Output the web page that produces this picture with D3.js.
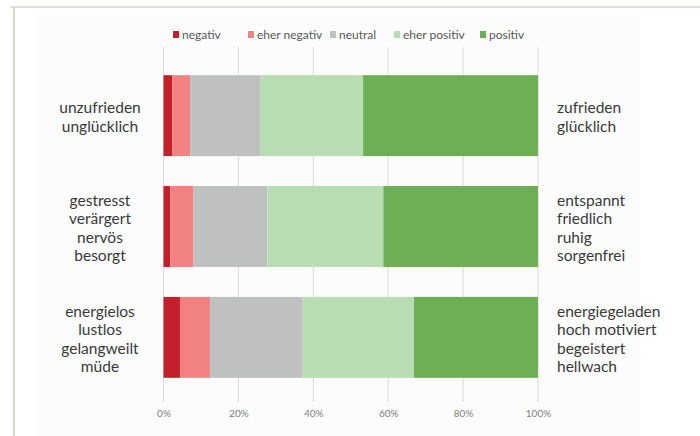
<!DOCTYPE html>
<html><head><meta charset="utf-8">
<script src="https://cdn.jsdelivr.net/npm/d3@7"></script>
<style>body{margin:0;background:#fff;}svg{display:block;}</style>
</head><body>
<svg id="c" width="700" height="436"></svg>
<script>
const categories = ["Zufriedenheit", "Entspannung", "Energie"];
const leftLabels = [["unzufrieden","unglücklich"],["gestresst","verärgert","nervös","besorgt"],["energielos","lustlos","gelangweilt","müde"]];
const rightLabels = [["zufrieden","glücklich"],["entspannt","friedlich","ruhig","sorgenfrei"],["energiegeladen","hoch motiviert","begeistert","hellwach"]];
const seriesNames = ["negativ","eher negativ","neutral","eher positiv","positiv"];
const negativ = [2.3, 1.8, 4.4];
const eherNegativ = [4.8, 6.2, 8.0];
const neutral = [18.7, 19.7, 24.8];
const eherPositiv = [27.5, 31.0, 29.7];
const positiv = [46.7, 41.3, 33.1];
const tickValues = [0, 20, 40, 60, 80, 100];
const colors = ["#c4202b", "#f28282", "#bfc1c0", "#b9ddb2", "#6caf55"];

const svg = d3.select("#c");
// frame
svg.append("rect").attr("x",36).attr("y",16).attr("width",604).attr("height",420).attr("fill","#fcfcfc");
svg.append("line").attr("x1",10).attr("x2",700).attr("y1",7).attr("y2",7).attr("stroke","#d6d8c8").attr("stroke-width",1.5);
svg.append("line").attr("x1",14).attr("x2",14).attr("y1",7).attr("y2",436).attr("stroke","#d6d8c8").attr("stroke-width",2);

const x = d3.scaleLinear().domain([0,100]).range([163.5, 538]);
const y = d3.scaleBand().domain(categories).range([53, 400]).paddingInner(0.27).paddingOuter(0.2);

const rows = categories.map((c,i)=>({cat:c, vals:[negativ[i],eherNegativ[i],neutral[i],eherPositiv[i],positiv[i]]}));
const stackData = rows.map(r=>{const o={cat:r.cat}; seriesNames.forEach((s,j)=>o[s]=r.vals[j]); return o;});
const stack = d3.stack().keys(seriesNames)(stackData);

// gridlines
svg.append("g").selectAll("line").data(tickValues).join("line")
  .attr("x1",d=>x(d)).attr("x2",d=>x(d)).attr("y1",47).attr("y2",402)
  .attr("stroke","#d9d9d9").attr("stroke-width",1);

svg.append("g").selectAll("g").data(stack).join("g")
  .attr("fill",(d,i)=>colors[i])
  .selectAll("rect").data(d=>d).join("rect")
  .attr("x",d=>x(d[0])).attr("width",d=>x(d[1])-x(d[0]))
  .attr("y",d=>y(d.data.cat)).attr("height",y.bandwidth());

// axis labels
const axis = d3.axisBottom(x).tickValues(tickValues).tickFormat(d=>d+"%").tickSize(0).tickPadding(0);
const ag = svg.append("g").attr("transform","translate(0,410)").call(axis);
ag.select(".domain").remove();
ag.selectAll("text").attr("fill","#808080").attr("font-family","Lato, sans-serif").attr("font-size",10).attr("dy","0.71em");

// side labels
const lineH = 18.5;
function labels(arr, xpos, anchor){
  arr.forEach((lines,i)=>{
    const cy = y(categories[i]) + y.bandwidth()/2;
    const n = lines.length;
    svg.append("text").attr("x",xpos).attr("text-anchor",anchor)
      .attr("font-family","Lato, sans-serif").attr("font-size",15.5).attr("fill","#3a3a3a")
      .selectAll("tspan").data(lines).join("tspan")
      .attr("x",xpos).attr("y",(d,k)=>cy + 7 + (k-(n-1)/2)*lineH).text(d=>d);
  });
}
labels(leftLabels, 100, "middle");
labels(rightLabels, 557, "start");

// legend
const legendX = [173, 248, 330, 394, 480];
const lg = svg.append("g").selectAll("g").data(seriesNames).join("g")
  .attr("transform",(d,i)=>`translate(${legendX[i]},31)`);
lg.append("rect").attr("width",6).attr("height",7).attr("fill",(d,i)=>colors[i]);
lg.append("text").attr("x",9).attr("y",7.5).attr("font-family","Lato, sans-serif").attr("font-size",12)
  .attr("fill","#595959").text(d=>d);
</script>
</body></html>
